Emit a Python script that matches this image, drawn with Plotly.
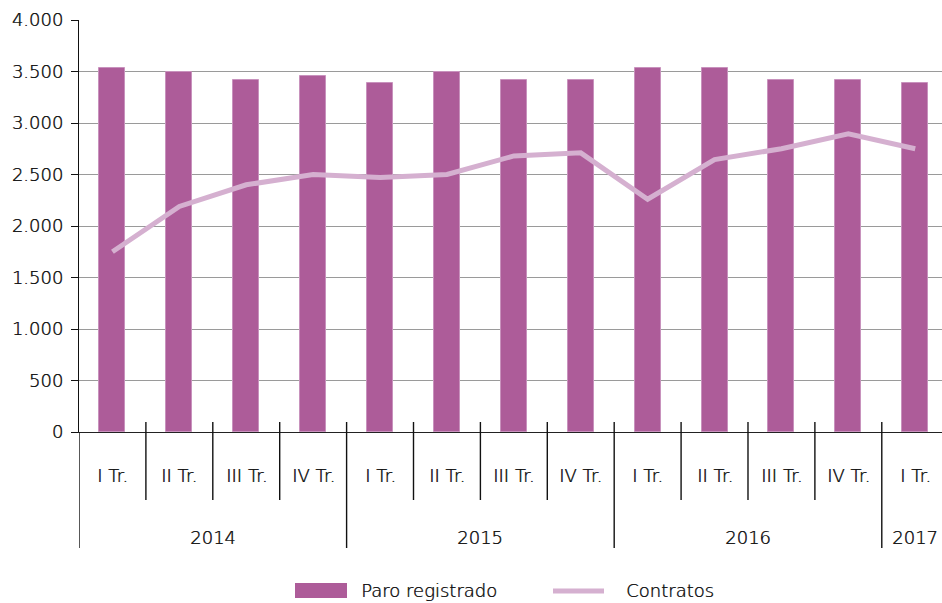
import plotly.graph_objects as go

quarters = ["I Tr.", "II Tr.", "III Tr.", "IV Tr.",
            "I Tr.", "II Tr.", "III Tr.", "IV Tr.",
            "I Tr.", "II Tr.", "III Tr.", "IV Tr.",
            "I Tr."]
years = ["2014", "2015", "2016", "2017"]
year_counts = [4, 4, 4, 1]
paro = [3530, 3500, 3420, 3460, 3390, 3500, 3420, 3420, 3530, 3530, 3420, 3420, 3390]
contratos = [1750, 2190, 2400, 2500, 2470, 2500, 2680, 2710, 2260, 2645, 2750, 2895, 2750]
y_ticks = [0, 500, 1000, 1500, 2000, 2500, 3000, 3500, 4000]

BAR = "#ad5c99"
LINE = "#d5b0d0"
TXT = "#161616"
FONT = "DejaVu Sans"
FS = 18

W, H = 942, 603
ML, MT, MB, MR = 79, 20, 171, 0
plot_h = H - MT - MB

def py(pix):
    return (H - MB - pix) / plot_h

def px(pix):
    return (pix - ML) / (W - ML - MR)

xs = list(range(len(quarters)))

fig = go.Figure()
fig.add_trace(go.Bar(x=xs, y=paro, name="Paro registrado", width=0.39,
                     marker=dict(color=BAR, line=dict(color="#c892bd", width=1)),
                     showlegend=False))
fig.add_trace(go.Scatter(x=xs, y=contratos, name="Contratos", mode="lines",
                         line=dict(color=LINE, width=5), showlegend=False))

shapes = []
annotations = []
tfont = dict(size=FS, color=TXT, family=FONT, weight=200, shadow="0.5px 0px 0px #161616")
for i in range(len(quarters)):
    annotations.append(dict(x=i, y=py(475), xref="x", yref="paper", text=quarters[i],
                            showarrow=False, font=tfont, yanchor="middle"))
year_bounds = []
pos = 0
for c in year_counts:
    year_bounds.append(pos)
    pos += c
for i in range(1, len(quarters)):
    if i in year_bounds:
        continue
    shapes.append(dict(type="line", xref="x", yref="paper", x0=i - 0.5, x1=i - 0.5,
                       y0=py(422), y1=py(500), line=dict(color="#111", width=1.4)))
for b in year_bounds:
    shapes.append(dict(type="line", xref="x", yref="paper", x0=b - 0.5, x1=b - 0.5,
                       y0=py(422) if b > 0 else py(432), y1=py(548),
                       line=dict(color="#111", width=1.4)))
pos = 0
for yr, c in zip(years, year_counts):
    annotations.append(dict(x=pos + (c - 1) / 2, y=py(537), xref="x", yref="paper", text=yr,
                            showarrow=False, font=tfont, yanchor="middle"))
    pos += c

# custom legend
shapes.append(dict(type="rect", xref="paper", yref="paper", x0=px(295), x1=px(347),
                   y0=py(598), y1=py(583), fillcolor=BAR, line=dict(width=0)))
annotations.append(dict(x=px(359), y=py(590), xref="paper", yref="paper",
                        text="Paro registrado", showarrow=False, xanchor="left",
                        yanchor="middle", font=tfont))
shapes.append(dict(type="line", xref="paper", yref="paper", x0=px(553), x1=px(604),
                   y0=py(591), y1=py(591), line=dict(color=LINE, width=5)))
annotations.append(dict(x=px(624), y=py(590), xref="paper", yref="paper",
                        text="Contratos", showarrow=False, xanchor="left",
                        yanchor="middle", font=tfont))

fig.update_layout(
    width=W, height=H,
    margin=dict(l=ML, r=MR, t=MT, b=MB, pad=0),
    plot_bgcolor="white", paper_bgcolor="white",
    separators=",.",
    font=dict(family=FONT, size=FS, color=TXT),
    shapes=shapes, annotations=annotations,
    showlegend=False,
    xaxis=dict(range=[-0.5, 12.4], showticklabels=False, showgrid=False, zeroline=False,
               showline=True, linecolor="#222", linewidth=1.4, ticks=""),
    yaxis=dict(range=[0, 4000], tickvals=y_ticks, tickformat=",d", showgrid=True,
               gridcolor="#9a9a9a", gridwidth=1, zeroline=False, showline=True,
               linecolor="#111", linewidth=1.4, ticks="outside", ticklen=7,
               tickcolor="#111", tickwidth=1.4, tickfont=tfont, ticklabelstandoff=4),
    bargap=0,
)

fig.write_html("out.html", config={"displayModeBar": False},
               post_script="document.body.style.margin='0';document.body.style.overflow='hidden';")
